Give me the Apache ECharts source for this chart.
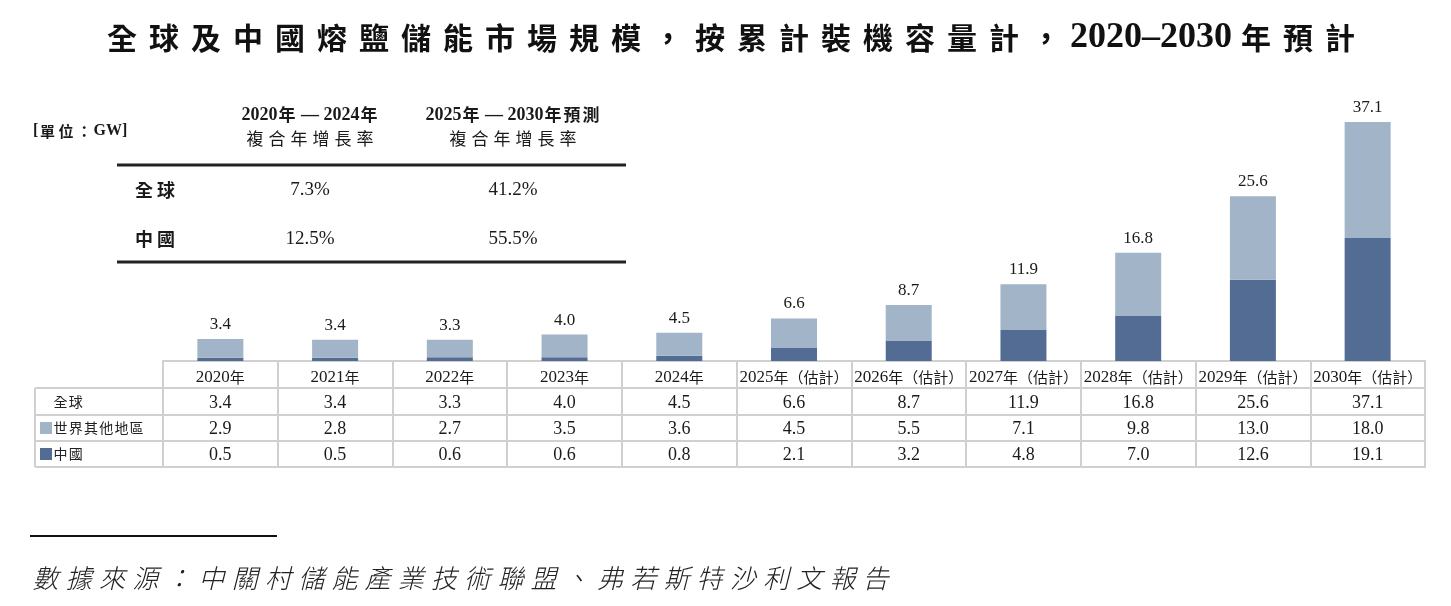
<!DOCTYPE html>
<html>
<head>
<meta charset="utf-8">
<script src="https://cdn.jsdelivr.net/npm/echarts@6/dist/echarts.min.js"></script>
<style>
  html, body { margin: 0; padding: 0; background: #ffffff; }
  #chart { width: 1451px; height: 606px; }
</style>
</head>
<body>
<div id="chart"></div>
<script>
// ---------------- data ----------------
const titleText = '全球及中國熔鹽儲能市場規模，按累計裝機容量計，2020–2030年預計';
const years = ['2020年', '2021年', '2022年', '2023年', '2024年',
  '2025年（估計）', '2026年（估計）', '2027年（估計）', '2028年（估計）', '2029年（估計）', '2030年（估計）'];
const globalTotal = [3.4, 3.4, 3.3, 4.0, 4.5, 6.6, 8.7, 11.9, 16.8, 25.6, 37.1];
const restOfWorld = [2.9, 2.8, 2.7, 3.5, 3.6, 4.5, 5.5, 7.1, 9.8, 13.0, 18.0];
const china = [0.5, 0.5, 0.6, 0.6, 0.8, 2.1, 3.2, 4.8, 7.0, 12.6, 19.1];
const rowNames = ['全球', '世界其他地區', '中國'];
const unitText = '[單位：GW]';
const cagrHeaders = ['2020年 — 2024年', '2025年 — 2030年預測'];
const cagrSub = '複合年增長率';
const cagrRowNames = ['全球', '中國'];
const cagrGlobal = ['7.3%', '41.2%'];
const cagrChina = ['12.5%', '55.5%'];
const sourceText = '數據來源：中關村儲能產業技術聯盟、弗若斯特沙利文報告';

// ---------------- styles ----------------
const CJK = '"Noto Sans CJK TC", sans-serif';
const SERIF = '"Liberation Serif", "Noto Sans CJK TC", serif';
const TXT = '#1a1a1a';
const LINE = '#d0d0d0';
const DARK = '#536c94';
const LIGHT = '#a1b4c8';

// wrap CJK chars into spaced rich tokens, latin runs into another token
function spaced(str, cjkKey, latKey) {
  let out = '', run = '';
  for (const ch of str) {
    if (/[\u3000-\u9fff\uff00-\uffef]/.test(ch)) {
      if (run) { out += '{' + latKey + '|' + run + '}'; run = ''; }
      out += '{' + cjkKey + '|' + ch + '}';
    } else run += ch;
  }
  if (run) out += '{' + latKey + '|' + run + '}';
  return out;
}

const chart = echarts.init(document.getElementById('chart'), null, { renderer: 'canvas' });

const GRID_BOTTOM_Y = 361;
const rowOffsets = [0, 27, 54, 80, 106];
const tickLens = [27, 27, 26, 26, 0];

function rowAxis(i, labelFn, fontSize, margin, rich) {
  return {
    type: 'category', data: years, gridIndex: 0, position: 'bottom',
    offset: rowOffsets[i], boundaryGap: true,
    axisLine: { show: true, lineStyle: { color: LINE, width: 2 } },
    axisTick: { show: tickLens[i] > 0, length: tickLens[i], interval: 0, lineStyle: { color: LINE, width: 2 } },
    axisLabel: {
      show: !!labelFn, interval: 0, margin: margin,
      formatter: labelFn || undefined,
      fontFamily: SERIF, fontSize: fontSize, color: TXT,
      rich: rich || undefined
    },
    splitLine: { show: false }
  };
}

const fmt = v => Number(v).toFixed(1);

// graphic elements (texts & rules outside the plot)
const g = [];
// title
g.push({
  type: 'text', x: 731, y: 38, silent: true,
  style: {
    text: spaced(titleText, 'c', 'l'), align: 'center', verticalAlign: 'middle', fill: '#111',
    rich: {
      c: { fontFamily: CJK, fontSize: 30, fontWeight: 'bold', padding: [0, 6], fill: '#111' },
      l: { fontFamily: '"Liberation Serif", serif', fontSize: 36, fontWeight: 'bold', padding: [0, 3], fill: '#111' }
    }
  }
});
// unit
g.push({
  type: 'text', x: 33, y: 131, silent: true,
  style: {
    text: spaced(unitText, 'c', 'l'), align: 'left', verticalAlign: 'middle', fill: TXT,
    rich: {
      c: { fontFamily: CJK, fontSize: 15, fontWeight: 'bold', padding: [0, 1.7], fill: TXT },
      l: { fontFamily: '"Liberation Serif", serif', fontSize: 16, fontWeight: 'bold', fill: TXT }
    }
  }
});
// CAGR table
const cagrColX = [310, 513];
const cagrRowY = [190, 239];
cagrHeaders.forEach((h, i) => {
  g.push({
    type: 'text', x: cagrColX[i], y: 115, silent: true,
    style: {
      text: spaced(h, 'c', 'l'), align: 'center', verticalAlign: 'middle', fill: TXT,
      rich: {
        c: { fontFamily: CJK, fontSize: 17, fontWeight: 'bold', padding: [0, 1], fill: TXT },
        l: { fontFamily: '"Liberation Serif", serif', fontSize: 18, fontWeight: 'bold', fill: TXT }
      }
    }
  });
  g.push({
    type: 'text', x: cagrColX[i], y: 139, silent: true,
    style: {
      text: spaced(cagrSub, 'c', 'l'), align: 'center', verticalAlign: 'middle', fill: TXT,
      rich: { c: { fontFamily: CJK, fontSize: 17, padding: [0, 2.5], fill: TXT }, l: {} }
    }
  });
});
g.push({ type: 'line', silent: true, shape: { x1: 117, y1: 165, x2: 626, y2: 165 }, style: { stroke: '#222', lineWidth: 3 } });
g.push({ type: 'line', silent: true, shape: { x1: 117, y1: 262, x2: 626, y2: 262 }, style: { stroke: '#222', lineWidth: 3 } });
const cagrVals = [cagrGlobal, cagrChina];
cagrRowNames.forEach((n, r) => {
  g.push({
    type: 'text', x: 133, y: cagrRowY[r], silent: true,
    style: {
      text: spaced(n, 'c', 'l'), align: 'left', verticalAlign: 'middle', fill: TXT,
      rich: { c: { fontFamily: CJK, fontSize: 18, fontWeight: 'bold', padding: [0, 2], fill: TXT }, l: {} }
    }
  });
  cagrVals[r].forEach((v, c) => {
    g.push({
      type: 'text', x: cagrColX[c], y: cagrRowY[r], silent: true,
      style: { text: v, align: 'center', verticalAlign: 'middle', fill: TXT, fontFamily: '"Liberation Serif", serif', fontSize: 19 }
    });
  });
});
// data table first column
const tblLeft = 35, tblColX = 163;
const rowLineY = rowOffsets.map(o => GRID_BOTTOM_Y + o);
for (let i = 1; i < rowLineY.length; i++) {
  g.push({ type: 'line', silent: true, shape: { x1: tblLeft, y1: rowLineY[i], x2: tblColX, y2: rowLineY[i] }, style: { stroke: LINE, lineWidth: 2 } });
}
g.push({ type: 'line', silent: true, shape: { x1: tblLeft, y1: rowLineY[1], x2: tblLeft, y2: rowLineY[4] }, style: { stroke: LINE, lineWidth: 2 } });
const swatch = [null, LIGHT, DARK];
rowNames.forEach((n, r) => {
  const cy = (rowLineY[r + 1] + rowLineY[r + 2]) / 2;
  if (swatch[r]) {
    g.push({ type: 'rect', silent: true, shape: { x: 40, y: cy - 6, width: 12, height: 12 }, style: { fill: swatch[r] } });
  }
  g.push({
    type: 'text', x: 53, y: cy, silent: true,
    style: {
      text: spaced(n, 'c', 'l'), align: 'left', verticalAlign: 'middle', fill: TXT,
      rich: { c: { fontFamily: CJK, fontSize: 14, padding: [0, 0.6], fill: '#222' }, l: {} }
    }
  });
});
// footnote
g.push({ type: 'line', silent: true, shape: { x1: 30, y1: 536, x2: 277, y2: 536 }, style: { stroke: '#111', lineWidth: 2 } });
g.push({
  type: 'text', x: 29, y: 578, silent: true,
  style: {
    text: spaced(sourceText, 'c', 'l'), align: 'left', verticalAlign: 'middle', fill: TXT,
    rich: { c: { fontFamily: CJK, fontSize: 26, fontWeight: 300, fontStyle: 'italic', padding: [0, 3.6], fill: '#222' }, l: {} }
  }
});

const headerRich = {
  d: { fontFamily: '"Liberation Serif", serif', fontSize: 17, color: TXT },
  c: { fontFamily: CJK, fontSize: 15, color: TXT }
};
const headerFmt = v => {
  const m = /^(\d+)(.*)$/.exec(v);
  return m ? '{d|' + m[1] + '}{c|' + m[2] + '}' : v;
};

const option = {
  animation: false,
  backgroundColor: '#ffffff',
  grid: { left: 163, right: 26, top: 103.4, bottom: 606 - GRID_BOTTOM_Y, containLabel: false },
  xAxis: [
    rowAxis(0, headerFmt, 17, 8, headerRich),
    rowAxis(1, (v, i) => fmt(globalTotal[i]), 18, 6),
    rowAxis(2, (v, i) => fmt(restOfWorld[i]), 18, 5),
    rowAxis(3, (v, i) => fmt(china[i]), 18, 5),
    rowAxis(4, null, 18, 5)
  ],
  yAxis: { type: 'value', min: 0, max: 40, show: false, splitLine: { show: false } },
  series: [
    {
      name: '中國', type: 'bar', stack: 'total', xAxisIndex: 0, barWidth: 46,
      data: china, itemStyle: { color: DARK }
    },
    {
      name: '世界其他地區', type: 'bar', stack: 'total', xAxisIndex: 0, barWidth: 46,
      data: restOfWorld, itemStyle: { color: LIGHT },
      label: {
        show: true, position: 'top', distance: 6,
        formatter: p => fmt(globalTotal[p.dataIndex]),
        fontFamily: '"Liberation Serif", serif', fontSize: 17, color: TXT
      }
    }
  ],
  graphic: g
};
chart.setOption(option);
</script>
</body>
</html>
